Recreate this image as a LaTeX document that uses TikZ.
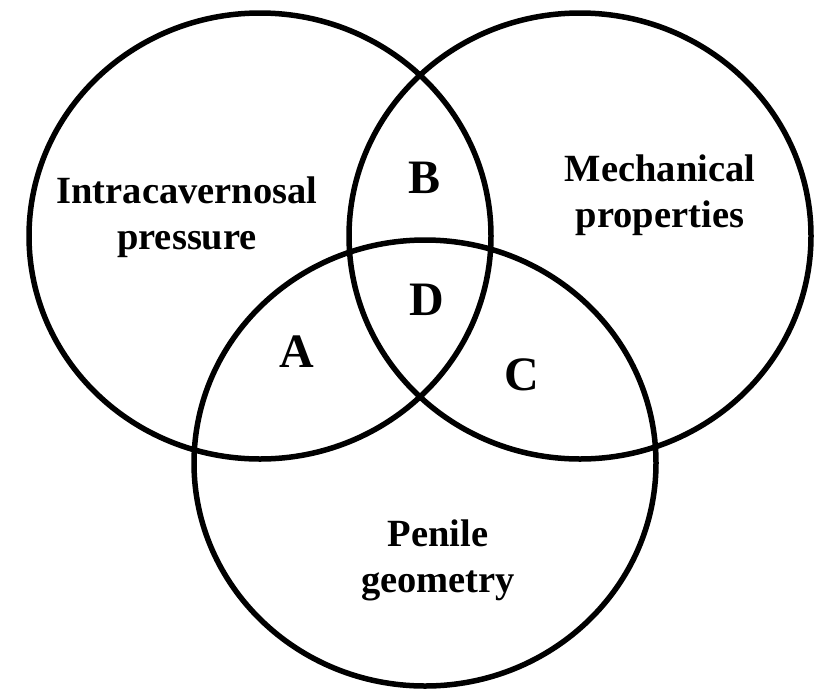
\documentclass[tikz,border=0pt]{standalone}
\usepackage{fontspec}
\setmainfont{Liberation Serif}
\usetikzlibrary{shapes.geometric}

\begin{document}
\begin{tikzpicture}[x=1pt,y=-1pt,
    vset/.style={ellipse,draw,line width=5.5pt,minimum width=462pt,minimum height=446pt,inner sep=0pt},
    setname/.style={align=center,font=\fontsize{38.5}{46}\selectfont\bfseries},
    region/.style={font=\fontsize{48}{52}\selectfont\bfseries}]
  \useasboundingbox (0,0) rectangle (818,689);
  % the three sets
  \node[vset] (pressure) at (260,236) {};
  \node[vset] (mechanics) at (580,236) {};
  \node[vset] (geometry) at (425,463) {};
  % set names
  \node[setname] (pressurelbl) at (187,217) {Intracavernosal\\pressure};
  \node[setname] (mechanicslbl) at (660,195) {Mechanical\\properties};
  \node[setname] (geometrylbl) at (438,560) {Penile\\geometry};
  % overlaps
  \node[region] (regA) at (297,352) {A};
  \node[region] (regB) at (425,178) {B};
  \node[region] (regC) at (522,375) {C};
  \node[region] (regD) at (427,300) {D};
\end{tikzpicture}
\end{document}
